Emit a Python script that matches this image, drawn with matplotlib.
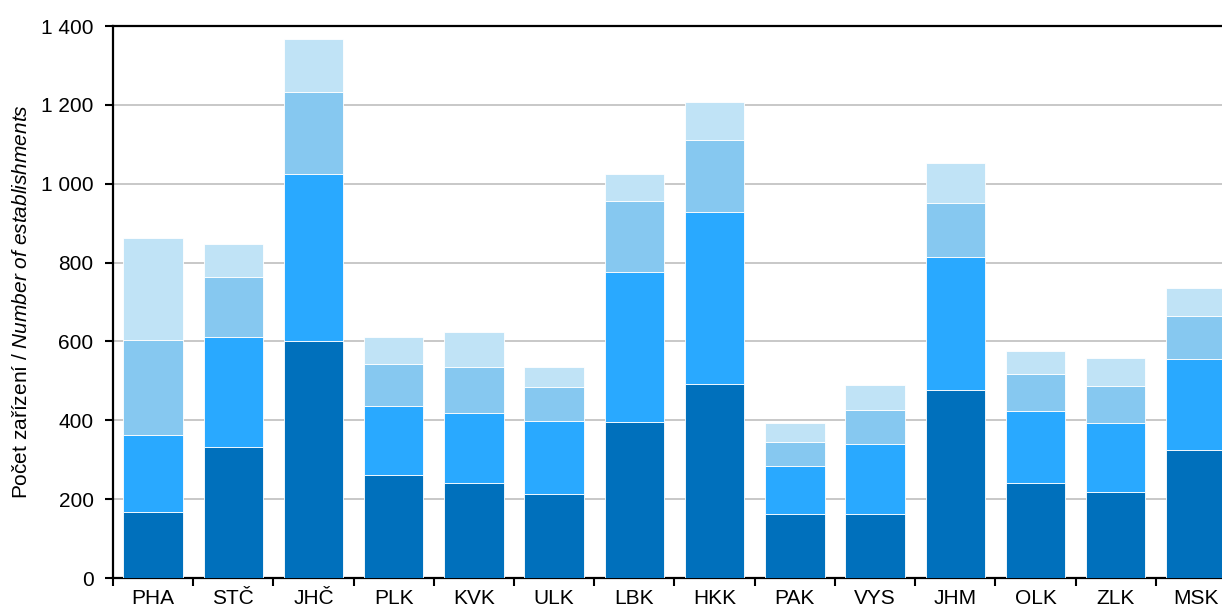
import numpy as np
import matplotlib
matplotlib.use("Agg")
import matplotlib.pyplot as plt

plt.rcParams["font.family"] = ["Liberation Sans", "DejaVu Sans"]
plt.rcParams["mathtext.fontset"] = "custom"
plt.rcParams["mathtext.rm"] = "Liberation Sans"
plt.rcParams["mathtext.it"] = "Liberation Sans:italic"

regions = ["PHA", "STČ", "JHČ", "PLK", "KVK", "ULK", "LBK",
           "HKK", "PAK", "VYS", "JHM", "OLK", "ZLK", "MSK"]

# four stacked segments, bottom to top
seg1 = [167, 331, 602, 262, 241, 212, 396, 493, 162, 162, 476, 241, 218, 324]
seg2 = [196, 279, 422, 174, 178, 185, 381, 434, 123, 178, 337, 183, 174, 232]
seg3 = [241, 154, 208, 108, 117, 88, 178, 184, 60, 87, 137, 94, 95, 109]
seg4 = [259, 83, 135, 68, 88, 50, 70, 95, 47, 63, 103, 57, 72, 71]

colors = ["#0070BC", "#29A9FF", "#86C8F0", "#C0E3F6"]

fig = plt.figure(figsize=(12.22, 6.10), dpi=100)
# the original is cropped on the right, so the axes runs past the figure edge
ax = fig.add_axes([113 / 1222, 32 / 610, 1123 / 1222, 552 / 610])

x = np.arange(len(regions))
bottom = np.zeros(len(regions))
for seg, col in zip([seg1, seg2, seg3, seg4], colors):
    vals = np.array(seg, dtype=float)
    ax.bar(x, vals, width=0.74, bottom=bottom, color=col,
           edgecolor="white", linewidth=0.6, zorder=3)
    bottom += vals

ax.set_xlim(-0.5, len(regions) - 0.5)
ax.set_ylim(0, 1400)
ax.set_yticks(np.arange(0, 1401, 200))
ax.set_yticklabels([f"{v:,}".replace(",", " ") for v in range(0, 1401, 200)])
ax.yaxis.grid(True, color="#C4C4C4", linewidth=1.3, zorder=0)
ax.set_axisbelow(True)

ax.set_xticks(x)
ax.set_xticklabels(regions)
ax.set_xticks(np.arange(-0.5, len(regions), 1), minor=True)
ax.tick_params(axis="x", which="major", length=0, pad=8, labelsize=15)
ax.tick_params(axis="x", which="minor", length=6, width=1.5, direction="out")
ax.tick_params(axis="y", length=6, width=1.5, direction="out", pad=8, labelsize=15)

for side in ["left", "bottom", "top"]:
    ax.spines[side].set_linewidth(1.6)
    ax.spines[side].set_color("black")
ax.spines["right"].set_visible(False)

ax.set_ylabel(r"Počet zařízení / $\mathit{Number\ of\ establishments}$",
              fontsize=15, labelpad=7)

fig.savefig("out.png", dpi=100)
